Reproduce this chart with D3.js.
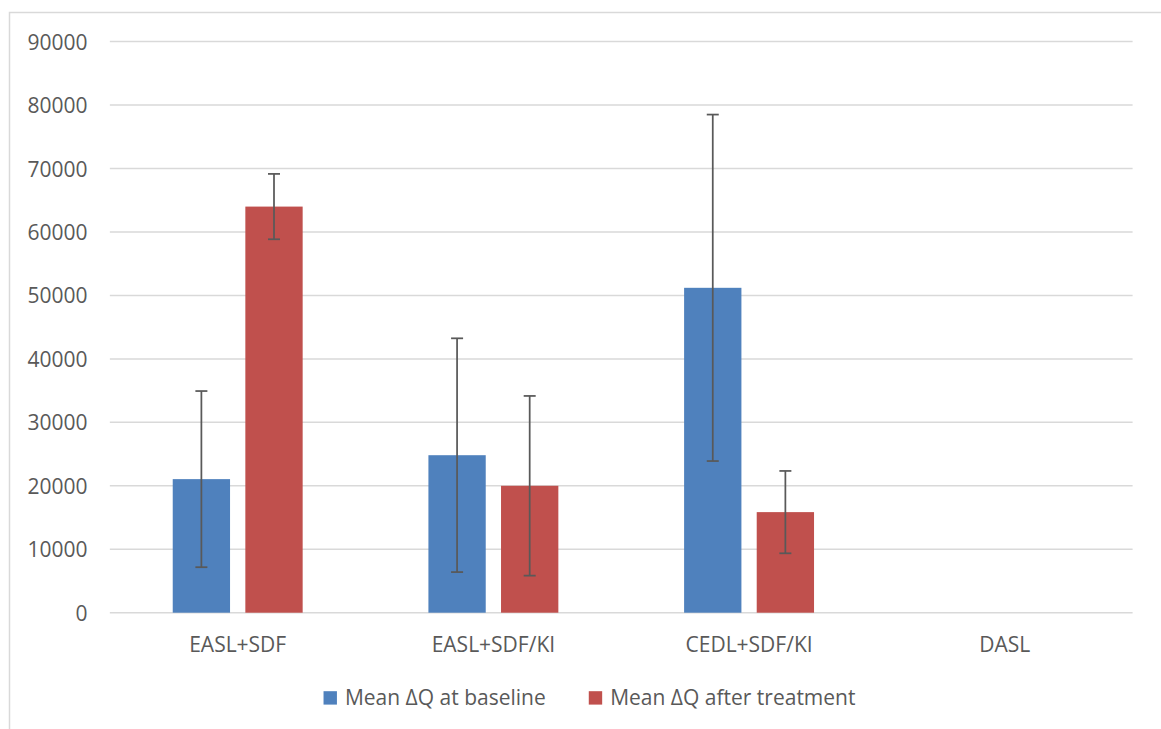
<!DOCTYPE html>
<html>
<head>
<meta charset="utf-8">
<script src="https://cdn.jsdelivr.net/npm/d3@7"></script>
<style>
  html, body { margin: 0; padding: 0; background: #ffffff; }
  svg { display: block; }
  text { font-family: "Open Sans", "Liberation Sans", sans-serif; fill: #595959; }
</style>
</head>
<body>
<svg id="chart" width="1161" height="729"></svg>
<script>
// ---- data ----
const categories = ["EASL+SDF", "EASL+SDF/KI", "CEDL+SDF/KI", "DASL"];
const seriesNames = ["Mean \u0394Q at baseline", "Mean \u0394Q after treatment"];
const baselineValues = [21050, 24820, 51200, null];
const afterValues = [64000, 20000, 15850, null];
const baselineErrors = [13880, 18420, 27300, null];
const afterErrors = [5150, 14160, 6490, null];
const yTicks = [0, 10000, 20000, 30000, 40000, 50000, 60000, 70000, 80000, 90000];
const seriesColors = ["#4F81BD", "#C0504D"];

const svg = d3.select("#chart");

// chart area frame (extends past the visible window on right/bottom)
svg.append("rect")
  .attr("x", 9.5).attr("y", 12.5)
  .attr("width", 1300).attr("height", 900)
  .attr("fill", "#ffffff")
  .attr("stroke", "#d9d9d9").attr("stroke-width", 1.5);

const plotLeft = 109.85, plotRight = 1132.6;
const y = d3.scaleLinear().domain([0, 90000]).range([612.7, 41.6]);
const x0 = d3.scaleBand().domain(categories).range([plotLeft, plotRight]).paddingInner(0).paddingOuter(0);
const x1 = d3.scaleBand().domain(seriesNames).range([0, x0.bandwidth()]).paddingInner(0.2107).paddingOuter(0.866);

// gridlines
svg.append("g").selectAll("line").data(yTicks).join("line")
  .attr("x1", plotLeft).attr("x2", plotRight)
  .attr("y1", d => y(d)).attr("y2", d => y(d))
  .attr("stroke", "#d9d9d9").attr("stroke-width", 1.5);

// y axis labels via d3 axis
const yAxis = d3.axisLeft(y).tickValues(yTicks).tickSize(0).tickPadding(0).tickFormat(d3.format("d"));
const yg = svg.append("g").attr("transform", "translate(87.5,0)").call(yAxis);
yg.select(".domain").remove();
yg.selectAll("text")
  .attr("font-family", "'Open Sans', sans-serif")
  .attr("font-size", 21).attr("fill", "#595959")
  .attr("dy", "0.36em");

// bars
const rows = categories.map((c, i) => ({
  cat: c,
  vals: [
    { s: seriesNames[0], v: baselineValues[i], e: baselineErrors[i], col: seriesColors[0] },
    { s: seriesNames[1], v: afterValues[i], e: afterErrors[i], col: seriesColors[1] }
  ]
}));

const groups = svg.append("g").selectAll("g").data(rows).join("g")
  .attr("transform", d => `translate(${x0(d.cat)},0)`);

groups.selectAll("rect").data(d => d.vals.filter(v => v.v != null)).join("rect")
  .attr("x", d => x1(d.s)).attr("width", x1.bandwidth())
  .attr("y", d => y(d.v)).attr("height", d => y(0) - y(d.v))
  .attr("fill", d => d.col);

// error bars
const capW = 12;
const eg = groups.selectAll("g.err").data(d => d.vals.filter(v => v.v != null && v.e != null)).join("g").attr("class", "err");
eg.append("line")
  .attr("x1", d => x1(d.s) + x1.bandwidth() / 2).attr("x2", d => x1(d.s) + x1.bandwidth() / 2)
  .attr("y1", d => y(d.v + d.e)).attr("y2", d => y(d.v - d.e))
  .attr("stroke", "#595959").attr("stroke-width", 1.75);
eg.append("line")
  .attr("x1", d => x1(d.s) + x1.bandwidth() / 2 - capW / 2).attr("x2", d => x1(d.s) + x1.bandwidth() / 2 + capW / 2)
  .attr("y1", d => y(d.v + d.e)).attr("y2", d => y(d.v + d.e))
  .attr("stroke", "#595959").attr("stroke-width", 1.75);
eg.append("line")
  .attr("x1", d => x1(d.s) + x1.bandwidth() / 2 - capW / 2).attr("x2", d => x1(d.s) + x1.bandwidth() / 2 + capW / 2)
  .attr("y1", d => y(d.v - d.e)).attr("y2", d => y(d.v - d.e))
  .attr("stroke", "#595959").attr("stroke-width", 1.75);

// category axis labels
const xAxis = d3.axisBottom(x0).tickSize(0).tickPadding(0);
const xg = svg.append("g").attr("transform", "translate(0,652.3)").call(xAxis);
xg.select(".domain").remove();
xg.selectAll("text")
  .attr("font-family", "'Open Sans', sans-serif")
  .attr("font-size", 21).attr("fill", "#595959")
  .attr("dy", 0);

// legend
const legendCenter = 589.5, sq = 13.4, sqGap = 8, itemGap = 43, legBase = 704.6;
const leg = svg.append("g");
const items = seriesNames.map((s, i) => {
  const g = leg.append("g");
  g.append("rect").attr("width", sq).attr("height", sq).attr("y", legBase - sq).attr("fill", seriesColors[i]);
  const t = g.append("text").attr("x", sq + sqGap).attr("y", legBase).attr("font-size", 21).text(s);
  return { g, w: sq + sqGap + t.node().getComputedTextLength() };
});
const total = d3.sum(items, d => d.w) + itemGap * (items.length - 1);
let cx = legendCenter - total / 2;
items.forEach(it => { it.g.attr("transform", `translate(${cx},0)`); cx += it.w + itemGap; });
</script>
</body>
</html>
